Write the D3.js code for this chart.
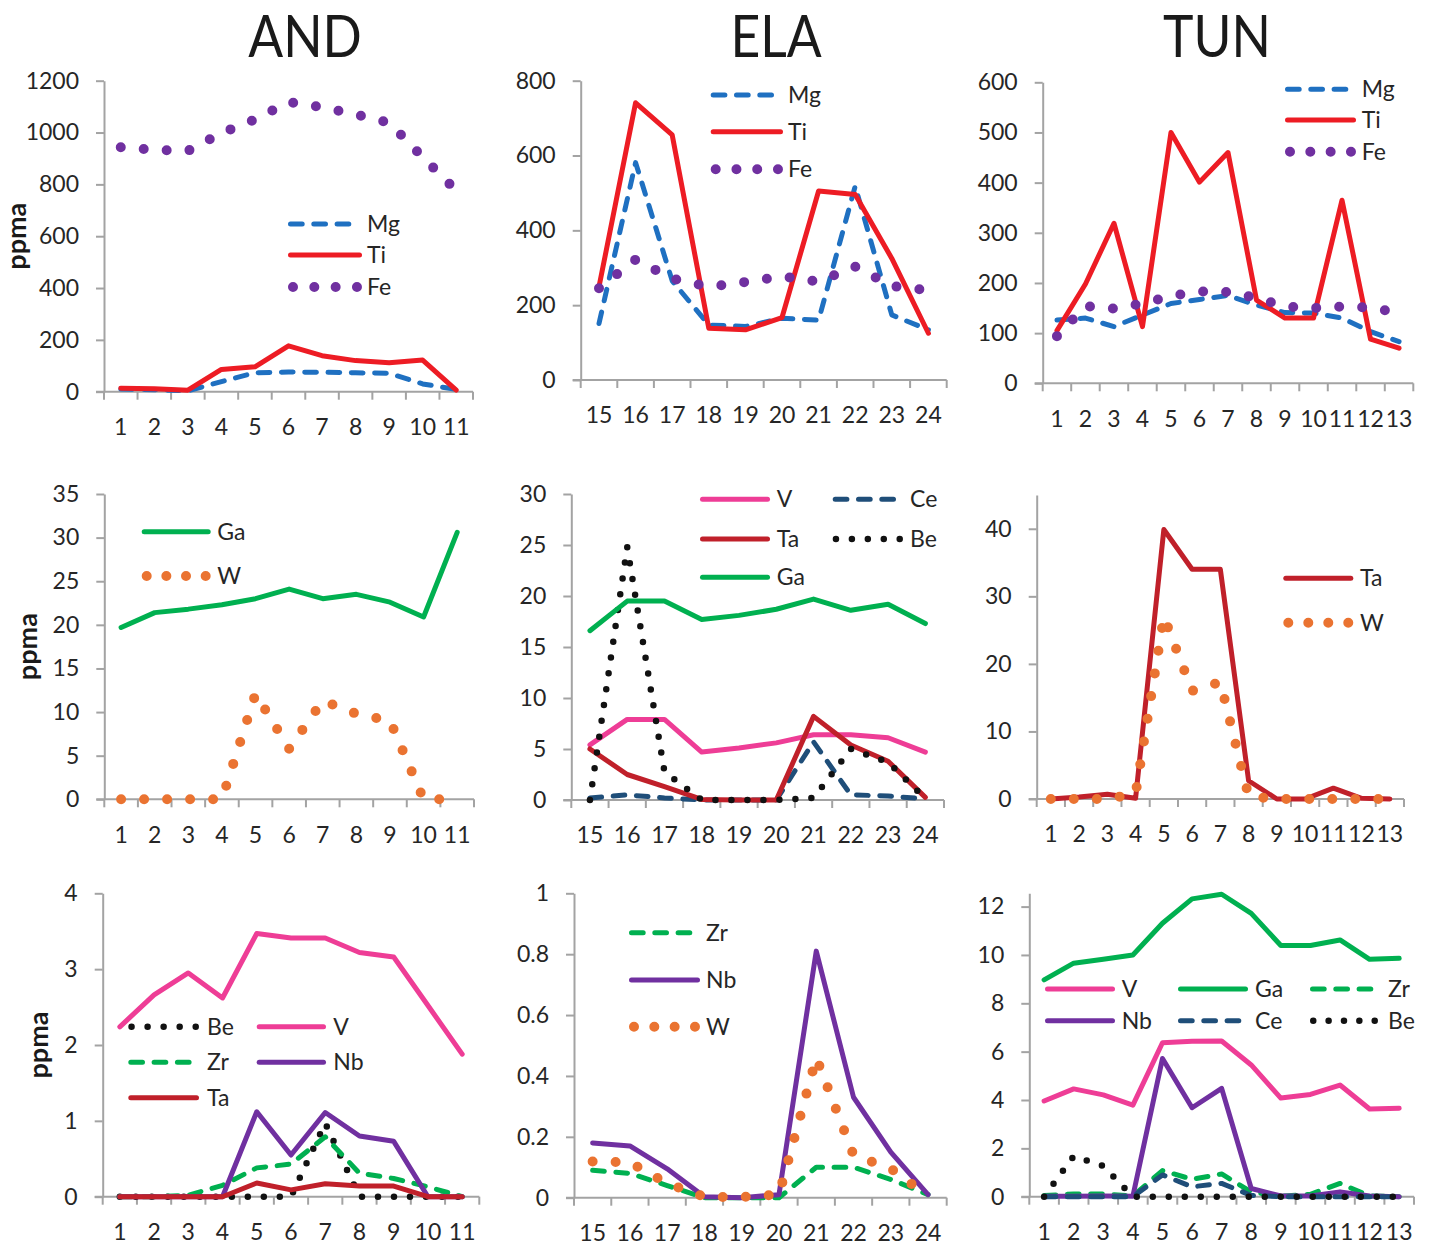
<!DOCTYPE html>
<html>
<head>
<meta charset="utf-8">
<script src="https://cdn.jsdelivr.net/npm/d3@7/dist/d3.min.js"></script>
<style>
body { margin: 0; background: #fff; }
text { font-family: Lato, "Open Sans", sans-serif; }
</style>
</head>
<body>
<div id="chart"></div>
<script>
// categories (sample numbers) for each column
var andCats = ["1", "2", "3", "4", "5", "6", "7", "8", "9", "10", "11"];
var elaCats = ["15", "16", "17", "18", "19", "20", "21", "22", "23", "24"];
var tunCats = ["1", "2", "3", "4", "5", "6", "7", "8", "9", "10", "11", "12", "13"];

// top row: Mg, Ti, Fe
var andMg = [10, 8, 3, 39, 73, 76, 75, 73, 71, 30, 9];
var andTi = [13, 11, 6, 86, 96, 177, 139, 120, 112, 122, 6];
var andFe = [943, 933, 929, 998, 1050, 1118, 1098, 1070, 1038, 905, 776];
var elaMg = [151, 581, 265, 147, 143, 165, 160, 518, 174, 134];
var elaTi = [249, 741, 655, 138, 134, 167, 505, 496, 325, 125];
var elaFe = [245, 322, 271, 249, 262, 277, 263, 303, 251, 240];
var tunMg = [126, 130, 113, 136, 159, 167, 175, 156, 141, 140, 130, 103, 83];
var tunTi = [105, 198, 319, 113, 500, 401, 460, 166, 130, 130, 365, 88, 70];
var tunFe = [94, 154, 149, 159, 174, 183, 182, 170, 153, 150, 153, 151, 140];

// middle row
var andGa = [19.7, 21.4, 21.8, 22.3, 23.0, 24.1, 23.0, 23.5, 22.6, 20.9, 30.6];
var andW = [0, 0, 0, 0, 12.1, 5.8, 11.3, 9.8, 9.0, 0, 0];
var elaV = [5.4, 7.9, 7.9, 4.7, 5.1, 5.6, 6.4, 6.4, 6.1, 4.7];
var elaCe = [0.2, 0.5, 0.2, 0, 0, 0, 5.7, 0.5, 0.4, 0.1];
var elaTa = [5.0, 2.5, 1.3, 0.05, 0, 0, 8.2, 5.4, 3.8, 0.26];
var elaBe = [0, 24.8, 2.75, 0, 0, 0, 0.2, 5.0, 3.7, 0.15];
var elaGa = [16.6, 19.5, 19.5, 17.7, 18.1, 18.7, 19.7, 18.6, 19.2, 17.3];
var tunTa = [0, 0.3, 0.7, 0.1, 39.9, 34.0, 34.0, 2.7, 0, 0, 1.6, 0.1, 0];
var tunW = [0, 0, 0, 0.8, 27.0, 16.0, 17.3, 0.4, 0, 0, 0, 0, 0];

// bottom row
var andBe = [0, 0, 0, 0, 0, 0, 0.97, 0, 0, 0, 0];
var andV = [2.24, 2.66, 2.95, 2.62, 3.47, 3.41, 3.41, 3.22, 3.16, 2.52, 1.88];
var andZr = [0, 0, 0.02, 0.15, 0.38, 0.43, 0.79, 0.31, 0.24, 0.13, 0];
var andNb = [0, 0, 0, 0, 1.12, 0.55, 1.11, 0.80, 0.73, 0, 0];
var andTa = [0, 0, 0, 0, 0.18, 0.09, 0.17, 0.14, 0.14, 0, 0];
var elaZr = [0.09, 0.08, 0.04, 0, 0, 0, 0.10, 0.10, 0.06, 0.01];
var elaNb = [0.18, 0.17, 0.095, 0.003, 0, 0.01, 0.81, 0.33, 0.15, 0.01];
var elaW = [0.119, 0.116, 0.047, 0.003, 0.002, 0.01, 0.46, 0.14, 0.096, 0.005];
var tunV = [3.96, 4.46, 4.21, 3.79, 6.37, 6.43, 6.44, 5.45, 4.08, 4.23, 4.62, 3.63, 3.66];
var tunGa = [8.97, 9.66, 9.82, 10.0, 11.31, 12.32, 12.51, 11.72, 10.39, 10.39, 10.62, 9.82, 9.86];
var tunZr = [0.05, 0.11, 0.11, 0.03, 1.08, 0.72, 0.94, 0.2, 0.02, 0.1, 0.55, 0.03, 0];
var tunNb = [0.02, 0.02, 0.03, 0.02, 5.72, 3.68, 4.48, 0.34, 0.03, 0.03, 0.2, 0.03, 0];
var tunCe = [0, 0, 0, 0, 0.9, 0.41, 0.55, 0.05, 0, 0, 0, 0, 0];
var tunBe = [0, 1.68, 1.27, 0, 0, 0, 0, 0, 0, 0, 0, 0, 0];

// y tick labels
var ticksAndTop = [0, 200, 400, 600, 800, 1000, 1200];
var ticksElaTop = [0, 200, 400, 600, 800];
var ticksTunTop = [0, 100, 200, 300, 400, 500, 600];
var ticksAndMid = [0, 5, 10, 15, 20, 25, 30, 35];
var ticksElaMid = [0, 5, 10, 15, 20, 25, 30];
var ticksTunMid = [0, 10, 20, 30, 40];
var ticksAndBot = [0, 1, 2, 3, 4];
var ticksElaBot = [0, 0.2, 0.4, 0.6, 0.8, 1];
var ticksTunBot = [0, 2, 4, 6, 8, 10, 12];

var titles = ["AND", "ELA", "TUN"];

// line styles per element
var styles = {
    Mg: { color: "#1f70c1", kind: "dash" },
    Ti: { color: "#ed1c24", kind: "solid" },
    Fe: { color: "#7030a0", kind: "dot", w: 10, sp: 23 },
    Ga: { color: "#00b050", kind: "solid" },
    W:  { color: "#ea7331", kind: "dot", w: 10, sp: 23 },
    V:  { color: "#ee3d96", kind: "solid" },
    Ce: { color: "#1f4e79", kind: "dash" },
    Ta: { color: "#c0202a", kind: "solid" },
    Be: { color: "#111111", kind: "dot", w: 6.5, sp: 16 },
    Zr: { color: "#00b050", kind: "dash" },
    Nb: { color: "#7030a0", kind: "solid" }
};

var width = 1429;
var height = 1245;

var svg = d3.select("#chart").append("svg")
    .attr("width", width)
    .attr("height", height);

// panel layout; legend rows: [name, lineStart, lineEnd, y, textX]
var panels = [
    { cats: andCats, x0: 104, x1: 473, yt: 80.7, yb: 391.7, max: 1200, ticks: ticksAndTop,
      series: [["Mg", andMg], ["Ti", andTi], ["Fe", andFe]], ylab: 26,
      legend: [["Mg", 288, 362, 224, 367], ["Ti", 288, 362, 255, 367], ["Fe", 288, 362, 287, 367]] },
    { cats: elaCats, x0: 580.7, x1: 946.7, yt: 80.7, yb: 380, max: 800, ticks: ticksElaTop,
      series: [["Mg", elaMg], ["Ti", elaTi], ["Fe", elaFe]],
      legend: [["Mg", 710.7, 783, 95, 788], ["Ti", 710.7, 783, 131.7, 788], ["Fe", 710.7, 783, 169.3, 788]] },
    { cats: tunCats, x0: 1042.7, x1: 1413.3, yt: 82.3, yb: 383.3, max: 600, ticks: ticksTunTop,
      series: [["Mg", tunMg], ["Ti", tunTi], ["Fe", tunFe]],
      legend: [["Mg", 1285, 1356, 89.3, 1361.7], ["Ti", 1285, 1356, 120, 1361.7], ["Fe", 1285, 1356, 151.7, 1361.7]] },

    { cats: andCats, x0: 104.3, x1: 474, yt: 494, yb: 799.3, max: 35, ticks: ticksAndMid,
      series: [["Ga", andGa], ["W", andW]], ylab: 37,
      legend: [["Ga", 141.7, 210.7, 531.7, 217.3], ["W", 141.7, 210.7, 576, 217.3]] },
    { cats: elaCats, x0: 571.3, x1: 944, yt: 494, yb: 800, max: 30, ticks: ticksElaMid,
      series: [["V", elaV], ["Ce", elaCe], ["Ta", elaTa], ["Be", elaBe], ["Ga", elaGa]],
      legend: [["V", 700, 770, 499.3, 776.7], ["Ce", 832.7, 903, 499.3, 910],
               ["Ta", 700, 770, 539, 776.7], ["Be", 832.7, 903, 539, 910],
               ["Ga", 700, 770, 577.3, 776.7]] },
    { cats: tunCats, x0: 1036.7, x1: 1404, yt: 495, yb: 799, max: 45, ticks: ticksTunMid,
      series: [["Ta", tunTa], ["W", tunW]],
      legend: [["Ta", 1283.3, 1353.3, 578.3, 1360], ["W", 1283.3, 1353.3, 622.7, 1360]] },

    { cats: andCats, x0: 102.7, x1: 479.3, yt: 893.3, yb: 1196.7, max: 4, ticks: ticksAndBot,
      series: [["Be", andBe], ["V", andV], ["Zr", andZr], ["Nb", andNb], ["Ta", andTa]], ylab: 48,
      legend: [["Be", 128.3, 199, 1026.7, 207], ["V", 256.7, 326, 1026.7, 333.3],
               ["Zr", 128.3, 199, 1062.3, 207], ["Nb", 256.7, 326, 1062.3, 333.3],
               ["Ta", 128.3, 199, 1097.7, 207]] },
    { cats: elaCats, x0: 574, x1: 946.7, yt: 893.3, yb: 1197.7, max: 1, ticks: ticksElaBot, fmt: d3.format("~g"),
      series: [["Zr", elaZr], ["Nb", elaNb], ["W", elaW]],
      legend: [["Zr", 629, 700, 932.7, 706], ["Nb", 629, 700, 980, 706], ["W", 629, 700, 1026.7, 706]] },
    { cats: tunCats, x0: 1029.3, x1: 1414, yt: 893.3, yb: 1196.7, max: 12.55, ticks: ticksTunBot,
      series: [["V", tunV], ["Ga", tunGa], ["Zr", tunZr], ["Nb", tunNb], ["Ce", tunCe], ["Be", tunBe]],
      legend: [["V", 1045, 1115, 989, 1121.7], ["Ga", 1178, 1248, 989, 1255], ["Zr", 1310, 1378, 989, 1388],
               ["Nb", 1045, 1115, 1020.7, 1121.7], ["Ce", 1178, 1248, 1020.7, 1255], ["Be", 1310, 1378, 1020.7, 1388]] }
];

function styleLine(sel, name) {
    var s = styles[name];
    sel.attr("fill", "none")
        .attr("stroke", s.color)
        .attr("stroke-linejoin", "round");
    if (s.kind == "dot") {
        sel.attr("stroke-width", s.w)
            .attr("stroke-linecap", "round")
            .attr("stroke-dasharray", "0," + s.sp);
    } else if (s.kind == "dash") {
        sel.attr("stroke-width", 5)
            .attr("stroke-linecap", "round")
            .attr("stroke-dasharray", "11.7,11.6");
    } else {
        sel.attr("stroke-width", 5)
            .attr("stroke-linecap", "round");
    }
}

function drawPanel(p) {
    var x = d3.scaleBand().domain(p.cats).range([p.x0, p.x1]);
    var y = d3.scaleLinear().domain([0, p.max]).range([p.yb, p.yt]);
    var g = svg.append("g");

    // y axis
    var ya = g.append("g")
        .attr("transform", "translate(" + p.x0 + ",0)")
        .call(d3.axisLeft(y).tickValues(p.ticks).tickSize(8).tickSizeOuter(0).tickPadding(17)
            .tickFormat(p.fmt || d3.format("d")));

    // x axis, labels in the middle of each category
    var xa = g.append("g")
        .attr("transform", "translate(0," + p.yb + ")")
        .call(d3.axisBottom(x).tickSize(0).tickPadding(27));
    xa.select(".domain").remove();

    // category boundary ticks
    var bounds = d3.range(p.cats.length + 1);
    g.selectAll("line.bound")
        .data(bounds)
        .enter()
        .append("line")
        .attr("class", "bound")
        .attr("x1", function(i) { return p.x0 + i * x.step(); })
        .attr("x2", function(i) { return p.x0 + i * x.step(); })
        .attr("y1", p.yb)
        .attr("y2", p.yb + 8)
        .attr("stroke", "#a3a3a3")
        .attr("stroke-width", 2);
    g.append("line")
        .attr("x1", p.x0 - 8)
        .attr("x2", p.x1)
        .attr("y1", p.yb)
        .attr("y2", p.yb)
        .attr("stroke", "#a3a3a3")
        .attr("stroke-width", 2);

    [ya, xa].forEach(function(a) {
        a.attr("font-family", null).attr("font-size", null);
        a.selectAll(".domain, .tick line").attr("stroke", "#a3a3a3").attr("stroke-width", 2);
        a.selectAll("text").attr("font-size", 23).attr("fill", "#262626");
    });

    var line = d3.line()
        .x(function(d, i) { return x(p.cats[i]) + x.bandwidth() / 2; })
        .y(function(d) { return y(d); });

    p.series.forEach(function(s) {
        g.append("path")
            .datum(s[1])
            .attr("d", line)
            .call(styleLine, s[0]);
    });

    // legend
    p.legend.forEach(function(l) {
        var st = styles[l[0]];
        var a = l[1], b = l[2];
        var lp = g.append("path");
        if (st.kind == "dot") {
            var r = st.w / 2;
            var len = b - a - 2 * r;
            var n = Math.round(len / st.sp);
            lp.attr("d", "M" + (a + r) + "," + l[3] + "H" + (b - r + 0.5)).call(styleLine, l[0])
                .attr("stroke-dasharray", "0," + (len / n - 0.01));
        } else {
            lp.attr("d", "M" + (a + 2.5) + "," + l[3] + "H" + (b - 2.5)).call(styleLine, l[0]);
        }
        g.append("text")
            .attr("x", l[4])
            .attr("y", l[3])
            .attr("dy", "0.35em")
            .attr("font-size", 23)
            .attr("fill", "#262626")
            .text(l[0]);
    });

    if (p.ylab) {
        g.append("text")
            .attr("transform", "translate(" + p.ylab + "," + ((p.yt + p.yb) / 2) + ") rotate(-90)")
            .attr("text-anchor", "middle")
            .attr("font-size", 27)
            .attr("font-weight", "bold")
            .attr("fill", "#1a1a1a")
            .text("ppma");
    }
}

panels.forEach(drawPanel);

// column titles
var titleX = [305, 776, 1217];
svg.selectAll("text.title")
    .data(titles)
    .enter()
    .append("text")
    .attr("class", "title")
    .attr("transform", function(d, i) { return "translate(" + titleX[i] + ",57) scale(0.89,1)"; })
    .attr("text-anchor", "middle")
    .attr("font-size", 58)
    .attr("fill", "#1a1a1a")
    .text(function(d) { return d; });
</script>
</body>
</html>
